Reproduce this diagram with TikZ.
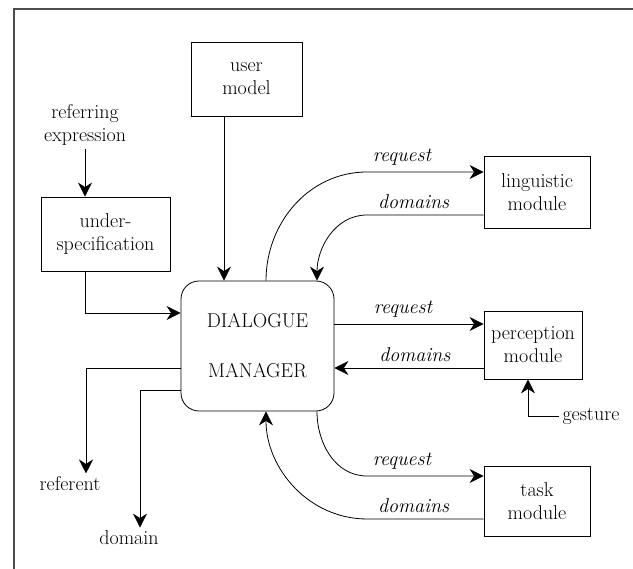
\documentclass[tikz,border=0pt]{standalone}
\usepackage{fontspec}
\usetikzlibrary{positioning,arrows.meta}
\newcommand{\dmfont}{\fontsize{20}{23}\selectfont}
\tikzset{
  md/.style={rectangle, minimum height=72pt, text centered, align=center, draw=black, inner sep=4pt},
  mgr/.style={rectangle, rounded corners=18pt, minimum width=153pt, minimum height=130pt, text centered, align=center, draw=black},
  tx/.style={align=center, inner sep=3pt},
  lb/.style={font=\dmfont\itshape, inner sep=3pt},
  ar/.style={-{Stealth[length=14pt,width=14pt,inset=4.5pt]}}
}
\begin{document}
\begin{tikzpicture}[x=1pt, y=1pt, line width=0.8pt, every node/.style={font=\dmfont}]
	\useasboundingbox (0,0) rectangle (633,569);
	\draw[black!70, line width=1.3pt] (14,0) -- (14,560) -- (633,560);

	\node[md, minimum width=111pt, minimum height=74pt] (user) at (246.5,490) {user\\model};
	\node[tx] (refexp) at (85,444) {referring\\expression};
	\node[md, minimum width=129pt, minimum height=74pt] (under) at (105.5,335) {under-\\specification};
	\node[mgr] (dia) at (257.5,223) {DIALOGUE\\[27pt]MANAGER};

	\node[md, minimum width=106pt] (ling) at (537,377) {linguistic\\module};
	\node[md, minimum width=98pt, minimum height=68pt] (perc) at (533,224) {perception\\module};
	\node[md, minimum width=106pt, minimum height=70pt] (task) at (537,68) {task\\module};
	\node[tx] (gest) at (591,153) {gesture};

	\node[tx] (ref) at (70,85) {referent};
	\node[tx] (dom) at (129,31) {domain};
	%
	\draw[ar] (refexp.south) -- (refexp.south |- under.north);
	\draw[ar] (refexp.south |- under.south) |- (dia.west |- 0,256);
	\draw[ar] (user.south -| 224,0) -- (dia.north -| 224,0);

	% linguistic module
	\draw[ar] (dia.north -| 266,0) to[out=90,in=180] (367,397) -- node[lb, above=3pt, pos=0.3] {request} (ling.west |- 0,397);
	\draw[ar] (ling.west |- 0,354) -- node[lb, above=3pt, pos=0.6] {domains} (367,354) to[out=180,in=90] (dia.north -| 317,0);

	% perception module
	\draw[ar] (dia.east |- 0,245) -- node[lb, above=3pt, pos=0.46] {request} (perc.west |- 0,245);
	\draw[ar] (perc.west |- 0,201) -- node[lb, above=3pt, pos=0.46] {domains} (dia.east |- 0,201);
	\draw[ar] (gest.west) -| (perc.south -| 528,0);

	% task module
	\draw[ar] (dia.south -| 317,0) to[out=-90,in=180] (367,93) -- node[lb, above=3pt, pos=0.3] {request} (task.west |- 0,93);
	\draw[ar] (task.west |- 0,50) -- node[lb, above=3pt, pos=0.6] {domains} (367,50) to[out=180,in=-90] (dia.south -| 266,0);

	\draw[ar] (dia.west |- 0,201) -| (ref.north -| 86,0);
	\draw[ar] (dia.west |- 0,179) -| (dom.north -| 140,0);
\end{tikzpicture}
\end{document}
